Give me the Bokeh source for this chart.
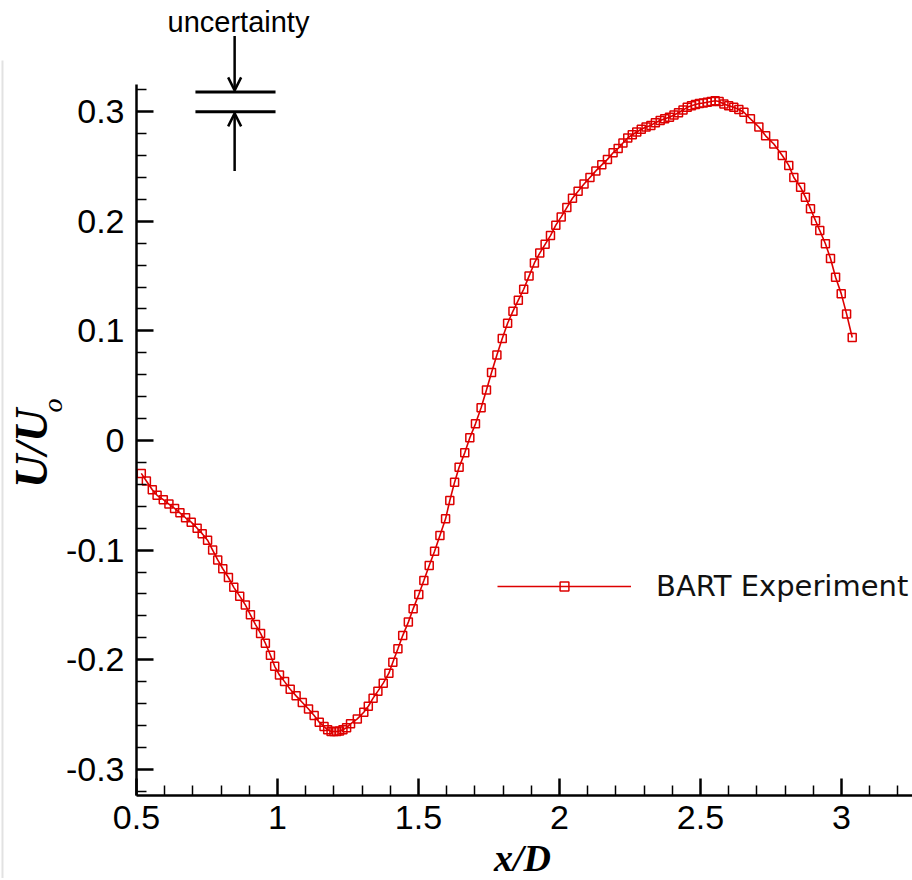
from math import pi
from bokeh.plotting import figure
from bokeh.models import (Range1d, FixedTicker, Label, Arrow, OpenHead, Legend,
                          LegendItem, CustomJSTickFormatter)
from bokeh.embed import file_html
from bokeh.resources import INLINE

# ---------------- data ----------------
x_d = [0.517, 0.535, 0.556, 0.573, 0.595, 0.615, 0.635, 0.654, 0.674, 0.694,
       0.715, 0.733, 0.752, 0.770, 0.788, 0.806, 0.826, 0.845, 0.866, 0.886,
       0.904, 0.922, 0.940, 0.957, 0.975, 0.990, 1.007, 1.025, 1.045, 1.066,
       1.088, 1.110, 1.130, 1.148, 1.165, 1.178, 1.190, 1.200, 1.210, 1.220,
       1.232, 1.245, 1.259, 1.283, 1.306, 1.322, 1.339, 1.356, 1.375, 1.395,
       1.409, 1.427, 1.444, 1.464, 1.481, 1.501, 1.519, 1.538, 1.557, 1.576,
       1.596, 1.611, 1.628, 1.644, 1.664, 1.682, 1.702, 1.722, 1.741, 1.759,
       1.778, 1.797, 1.816, 1.835, 1.854, 1.873, 1.892, 1.911, 1.930, 1.949,
       1.968, 1.987, 2.006, 2.026, 2.046, 2.066, 2.087, 2.108, 2.129, 2.150,
       2.170, 2.190, 2.208, 2.225, 2.242, 2.258, 2.274, 2.290, 2.307, 2.324,
       2.340, 2.357, 2.373, 2.390, 2.406, 2.422, 2.438, 2.453, 2.468, 2.482,
       2.496, 2.510, 2.524, 2.538, 2.552, 2.566, 2.583, 2.600, 2.618, 2.636,
       2.654, 2.677, 2.707, 2.731, 2.760, 2.790, 2.813, 2.831, 2.855, 2.872,
       2.890, 2.908, 2.923, 2.943, 2.961, 2.979, 2.999, 3.018, 3.038]
u_d = [-0.030, -0.037, -0.045, -0.050, -0.054, -0.058, -0.062, -0.066, -0.0705, -0.0745,
       -0.080, -0.085, -0.091, -0.100, -0.109, -0.117, -0.125, -0.134, -0.142, -0.150,
       -0.159, -0.168, -0.176, -0.185, -0.196, -0.206, -0.214, -0.220, -0.227, -0.233,
       -0.239, -0.245, -0.251, -0.257, -0.261, -0.264, -0.2655, -0.2655, -0.2655, -0.265,
       -0.264, -0.262, -0.2585, -0.254, -0.248, -0.2425, -0.2351, -0.2287, -0.2214, -0.2123,
       -0.2023, -0.190, -0.178, -0.1657, -0.1536, -0.1405, -0.1277, -0.114, -0.101, -0.0867,
       -0.0715, -0.0547, -0.038, -0.0244, -0.0112, 0.0025, 0.0152, 0.0298, 0.046, 0.062,
       0.078, 0.093, 0.107, 0.118, 0.128, 0.138, 0.150, 0.162, 0.171, 0.179,
       0.187, 0.1965, 0.204, 0.2125, 0.221, 0.2275, 0.234, 0.240, 0.246, 0.2515,
       0.2565, 0.2625, 0.2665, 0.2715, 0.276, 0.279, 0.2815, 0.284, 0.286, 0.2875,
       0.290, 0.292, 0.2935, 0.295, 0.297, 0.299, 0.3015, 0.304, 0.3055, 0.3065,
       0.3075, 0.308, 0.3087, 0.3093, 0.310, 0.3093, 0.307, 0.3055, 0.304, 0.302,
       0.2995, 0.2935, 0.286, 0.278, 0.2705, 0.260, 0.251, 0.240, 0.231, 0.222,
       0.2115, 0.2005, 0.1915, 0.1795, 0.166, 0.149, 0.134, 0.1155, 0.094]

x_ticks = [0.5, 1.0, 1.5, 2.0, 2.5, 3.0]
x_tick_labels = ["0.5", "1", "1.5", "2", "2.5", "3"]
y_ticks = [-0.3, -0.2, -0.1, 0.0, 0.1, 0.2, 0.3]
y_tick_labels = ["-0.3", "-0.2", "-0.1", "0", "0.1", "0.2", "0.3"]

# axis extents (where the drawn axes stop)
x_axis_bounds = (0.5, 3.252)
y_axis_bounds = (-0.3235, 0.3245)

# uncertainty band (lines and arrows)
unc_x = [0.709, 0.993]
unc_y = [0.300, 0.318]
unc_arrow_x = 0.848

RED = "#dd0000"

# the frame covers the whole canvas; axes are pinned with fixed_location
p = figure(frame_width=912, frame_height=878,
           x_range=Range1d(0.01773, 3.25177), y_range=Range1d(-0.39964, 0.40146),
           output_backend="svg", toolbar_location=None, min_border=0,
           min_border_left=0, min_border_right=0, min_border_top=0,
           min_border_bottom=0)
p.grid.visible = False
p.outline_line_color = None
p.background_fill_color = "white"
p.border_fill_color = "white"

x_minor = [round(0.5 + 0.1 * i, 2) for i in range(28) if i % 5 != 0]
y_minor = [round(-0.32 + 0.02 * i, 2) for i in range(33) if (i - 1) % 5 != 0]

fmt = CustomJSTickFormatter(code="return tick.toFixed(2).replace(/\\.?0+$/, '')")
for ax, ticks, labels, minor, bnds in (
        (p.xaxis[0], x_ticks, x_tick_labels, x_minor, x_axis_bounds),
        (p.yaxis[0], y_ticks, y_tick_labels, y_minor, y_axis_bounds)):
    ax.ticker = FixedTicker(ticks=ticks, minor_ticks=minor)
    ax.formatter = fmt
    ax.major_label_overrides = {t: l for t, l in zip(ticks, labels)}
    ax.bounds = bnds
    ax.axis_line_width = 2.5
    ax.axis_line_color = "black"
    ax.major_tick_in = 17
    ax.major_tick_out = 0
    ax.minor_tick_in = 10
    ax.minor_tick_out = 0
    ax.major_tick_line_width = 2.5
    ax.minor_tick_line_width = 1.5
    ax.major_tick_line_color = "black"
    ax.minor_tick_line_color = "black"
    ax.major_label_text_font = "Liberation Sans"
    ax.major_label_text_font_size = "34px"
    ax.major_label_text_color = "black"
p.xaxis[0].fixed_location = y_axis_bounds[0]
p.yaxis[0].fixed_location = x_axis_bounds[0]
p.xaxis[0].major_label_standoff = 11
p.yaxis[0].major_label_standoff = 12

# faint frame edge seen at the left of the reference image
p.segment(x0=[0.0248], y0=[0.3467], x1=[0.0248], y1=[-0.3996],
          line_color="#e2e2e2", line_width=2)

# data
line_r = p.line(x_d, u_d, line_color=RED, line_width=1.6)
sc_r = p.scatter(x_d, u_d, marker="square", size=8, fill_color=None,
                 line_color=RED, line_width=1.5)

legend = Legend(items=[LegendItem(label="BART Experiment", renderers=[line_r, sc_r])],
                location=(497, 275), glyph_width=134, glyph_height=22,
                label_height=22, label_standoff=25, padding=0, margin=0,
                border_line_color=None, background_fill_alpha=0,
                label_text_font="DejaVu Sans", label_text_font_size="29px",
                label_text_color="#111111")
p.add_layout(legend)

# uncertainty annotation
p.segment(x0=[unc_x[0]] * 2, y0=unc_y, x1=[unc_x[1]] * 2, y1=unc_y,
          line_color="black", line_width=3)
p.add_layout(Arrow(end=OpenHead(size=13, line_width=2.5, line_color="black"),
                   x_start=unc_arrow_x, y_start=0.369, x_end=unc_arrow_x, y_end=0.3195,
                   line_width=2.5, line_color="black"))
p.add_layout(Arrow(end=OpenHead(size=13, line_width=2.5, line_color="black"),
                   x_start=unc_arrow_x, y_start=0.246, x_end=unc_arrow_x, y_end=0.2985,
                   line_width=2.5, line_color="black"))
p.add_layout(Label(x=0.8617, y=0.3814, text="uncertainty", text_align="center",
                   text_baseline="alphabetic", text_font="Liberation Sans",
                   text_font_size="29px", text_color="black"))

# axis titles
p.add_layout(Label(x=1.8688, y=-0.3805, text="x/D", text_align="center",
                   text_baseline="alphabetic", text_font="Liberation Serif",
                   text_font_style="bold italic", text_font_size="38px",
                   text_color="black"))
p.add_layout(Label(x=0.1291, y=-0.0073, text="U/U", angle=pi / 2, text_align="center",
                   text_baseline="alphabetic", text_font="Liberation Serif",
                   text_font_style="bold italic", text_font_size="46px",
                   text_color="black"))
p.add_layout(Label(x=0.2039, y=0.0319, text="o", angle=pi / 2, text_align="center",
                   text_baseline="alphabetic", text_font="Liberation Serif",
                   text_font_style="italic", text_font_size="28px",
                   text_color="black"))

open("out.html", "w").write(file_html(p, INLINE))
